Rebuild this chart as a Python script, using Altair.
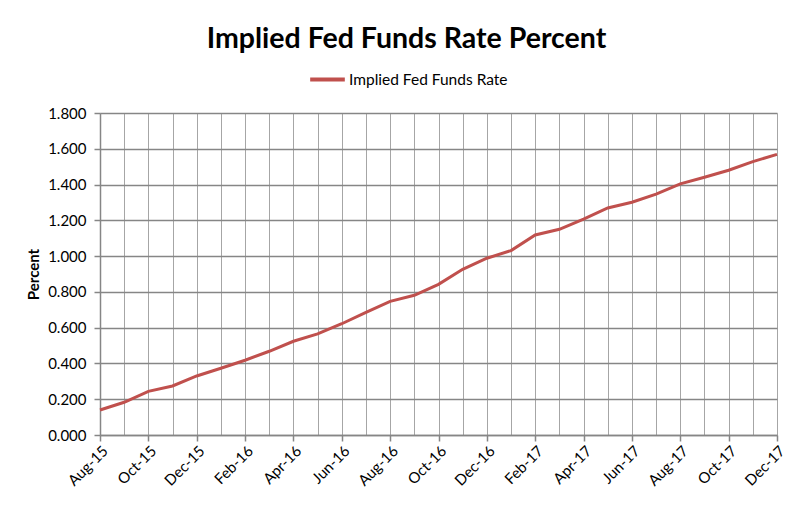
import altair as alt
import pandas as pd

months = ["Aug-15","Sep-15","Oct-15","Nov-15","Dec-15","Jan-16","Feb-16","Mar-16","Apr-16","May-16",
          "Jun-16","Jul-16","Aug-16","Sep-16","Oct-16","Nov-16","Dec-16","Jan-17","Feb-17","Mar-17",
          "Apr-17","May-17","Jun-17","Jul-17","Aug-17","Sep-17","Oct-17","Nov-17","Dec-17"]
rates = [0.140,0.183,0.244,0.274,0.330,0.373,0.418,0.468,0.524,0.565,
         0.622,0.686,0.747,0.781,0.842,0.926,0.988,1.031,1.118,1.150,
         1.207,1.269,1.301,1.346,1.404,1.441,1.480,1.528,1.569]
y_ticks = [0.0,0.2,0.4,0.6,0.8,1.0,1.2,1.4,1.6,1.8]
series_name = "Implied Fed Funds Rate"

labeled = months[::2]
lab_arr = "[" + ",".join("'" + m + "'" for m in labeled) + "]"

df = pd.DataFrame({"Month": months, "Rate": rates, "Series": series_name})

FONT = "Lato, sans-serif"
AXC = "#868686"
GRC = "#a6a6a6"

chart = alt.Chart(df).mark_line(strokeWidth=3).encode(
    x=alt.X("Month:O", sort=months,
            scale=alt.Scale(type="point", padding=0),
            axis=alt.Axis(title=None, labelAngle=-45, labelFontSize=15, labelFont=FONT,
                          labelColor="#000000", labelExpr=f"indexof({lab_arr}, datum.label) >= 0 ? datum.label : ''",
                          grid=True, gridColor=GRC, gridWidth=1, domainColor=AXC, domainWidth=1.5,
                          tickColor={"condition": {"test": f"indexof({lab_arr}, datum.value) >= 0", "value": AXC}, "value": "transparent"},
                          tickSize=6, tickWidth=1.5, labelPadding=2, labelOverlap=False)),
    y=alt.Y("Rate:Q", scale=alt.Scale(domain=[0, 1.8]),
            axis=alt.Axis(title="Percent", values=y_ticks, format=".3f", labelFontSize=15, labelFont=FONT,
                          labelColor="#000000", titleFont=FONT, titleFontSize=15, titleFontWeight="bold",
                          titleColor="#000000", titlePadding=6, grid=True, gridColor=AXC, gridWidth=1.5,
                          domainColor=AXC, domainWidth=1.5, tickColor=AXC, tickSize=6, tickWidth=1.5,
                          labelPadding=8)),
    color=alt.Color("Series:N", scale=alt.Scale(range=["#C0504D"]),
                    legend=alt.Legend(title=None, orient="none", legendX=208, legendY=-53,
                                      symbolType="stroke", symbolStrokeWidth=4, symbolSize=1200,
                                      labelFont=FONT, labelFontSize=15.5, labelColor="#000000",
                                      labelOffset=2, labelLimit=400)),
).properties(
    width=677, height=322,
    title=alt.TitleParams("Implied Fed Funds Rate Percent", font=FONT, fontSize=28.5, fontWeight="bold",
                          color="#000000", anchor="middle", dx=-32, offset=7),
    autosize=alt.AutoSizeParams(type="none"),
    padding={"left": 92, "top": 105, "right": 10, "bottom": 55},
).configure_view(stroke=None)

chart.save("out.html", embed_options={"renderer": "svg", "actions": False})
